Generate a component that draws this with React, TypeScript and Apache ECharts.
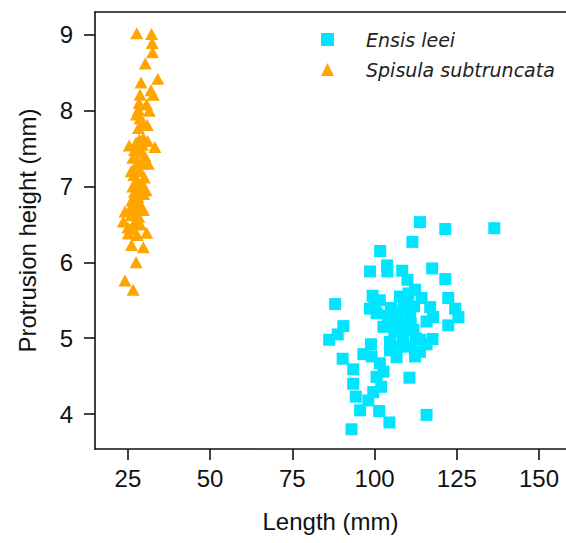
import React, { useEffect, useRef } from "react";
import * as echarts from "echarts";

const seriesNames = ["Ensis leei", "Spisula subtruncata"];
const xTicks = [25, 50, 75, 100, 125, 150];
const yTicks = [4, 5, 6, 7, 8, 9];

// [length (mm), protrusion height (mm)]
const ensisLeei: number[][] = [
  [113.8, 6.53], [121.5, 6.44], [136.4, 6.45], [111.5, 6.27], [101.7, 6.15],
  [103.8, 5.96], [103.9, 5.88], [98.6, 5.88], [108.4, 5.89], [117.5, 5.92],
  [110.0, 5.77], [121.5, 5.78], [88.0, 5.45], [99.4, 5.56], [101.6, 5.5],
  [98.6, 5.39], [100.6, 5.33], [107.7, 5.55], [110.3, 5.59], [112.3, 5.64],
  [114.3, 5.53], [122.4, 5.53], [116.9, 5.41], [124.5, 5.39], [125.5, 5.28],
  [117.8, 5.28], [115.8, 5.22], [122.4, 5.17], [108.7, 5.37], [110.8, 5.33],
  [105.7, 5.24], [107.7, 5.2], [102.7, 5.15], [109.8, 5.15], [111.8, 5.11],
  [106.7, 5.09], [90.5, 5.16], [88.8, 5.05], [86.2, 4.98], [104.7, 4.95],
  [108.7, 4.98], [113.8, 4.98], [117.6, 4.99], [115.8, 4.92], [98.9, 4.92],
  [107.7, 4.89], [110.8, 4.89], [96.6, 4.79], [104.7, 4.84], [90.3, 4.73],
  [99.1, 4.76], [106.7, 4.75], [112.3, 4.76], [113.8, 4.82], [101.6, 4.67],
  [93.5, 4.59], [102.7, 4.56], [100.6, 4.49], [110.6, 4.48], [93.5, 4.4],
  [102.0, 4.36], [99.6, 4.29], [94.3, 4.23], [98.1, 4.18], [95.6, 4.05],
  [101.4, 4.04], [115.8, 3.99], [104.5, 3.89], [93.0, 3.8], [105.0, 5.4],
  [107.0, 5.3], [109.0, 5.45], [111.0, 5.2], [106.0, 5.1], [108.5, 5.05],
  [104.0, 5.3], [112.5, 5.0], [110.0, 5.5], [100.0, 5.45], [112.0, 5.42],
];

const spisulaSubtruncata: number[][] = [
  [27.7, 9.02], [32.2, 9.01], [32.4, 8.89], [32.5, 8.77], [30.3, 8.62],
  [34.1, 8.42], [29.0, 8.37], [32.0, 8.27], [32.7, 8.21], [28.7, 8.21],
  [28.4, 8.1], [30.7, 8.08], [28.2, 8.01], [28.7, 7.9], [30.9, 7.81],
  [28.2, 7.77], [29.7, 7.64], [27.5, 7.58], [33.2, 7.52], [25.4, 7.54],
  [27.0, 7.48], [29.0, 7.45], [30.2, 7.4], [26.5, 7.38], [28.0, 7.33],
  [29.5, 7.3], [27.2, 7.25], [28.8, 7.2], [26.8, 7.15], [30.0, 7.12],
  [27.8, 7.08], [29.2, 7.05], [26.5, 7.0], [28.5, 6.98], [27.0, 6.93],
  [29.8, 6.9], [28.0, 6.86], [26.2, 6.82], [27.5, 6.78], [29.0, 6.75],
  [25.8, 6.72], [27.2, 6.7], [24.1, 6.67], [29.7, 6.69], [26.0, 6.62],
  [28.3, 6.6], [23.6, 6.54], [27.0, 6.52], [28.8, 6.5], [25.0, 6.46],
  [26.5, 6.44], [25.1, 6.38], [30.7, 6.39], [27.8, 6.36], [26.1, 6.23],
  [29.7, 6.2], [27.5, 6.0], [24.1, 5.76], [26.6, 5.64], [31.0, 7.6],
  [28.5, 7.62], [27.6, 7.95], [29.6, 7.85], [31.5, 8.0], [26.0, 7.2],
  [30.5, 6.95], [31.2, 7.3], [28.0, 7.5], [29.4, 7.55], [27.4, 6.56],
];

const axisFont = "'Liberation Sans', Arial, sans-serif";

export default function App() {
  const ref = useRef<HTMLDivElement>(null);
  useEffect(() => {
    if (!ref.current) return;
    const chart = echarts.init(ref.current, undefined, { renderer: "svg" });
    const axisLine = { show: true, lineStyle: { color: "#111", width: 1.6 } };
    chart.setOption({
      animation: false,
      backgroundColor: "#fff",
      grid: { left: 95, right: 0, top: 12, bottom: 94 },
      legend: {
        orient: "vertical",
        left: 316,
        top: 25,
        itemWidth: 13,
        itemHeight: 13,
        itemGap: 11,
        data: [
          { name: seriesNames[0], icon: "rect" },
          { name: seriesNames[1], icon: "triangle" },
        ],
        textStyle: {
          fontFamily: "'DejaVu Sans', sans-serif",
          fontStyle: "italic",
          fontSize: 19,
          color: "#222",
          padding: [0, 0, 0, 27],
        },
      },
      xAxis: [
        {
          type: "value",
          min: 15,
          max: 158.2,
          interval: 25,
          name: "Length (mm)",
          nameLocation: "middle",
          nameGap: 60,
          nameTextStyle: { fontFamily: axisFont, fontSize: 24, color: "#111" },
          axisLine,
          axisTick: { show: true, length: 11, lineStyle: { color: "#111", width: 1.6 }, customValues: xTicks },
          axisLabel: { fontFamily: axisFont, fontSize: 24, color: "#111", margin: 17, customValues: xTicks },
          splitLine: { show: false },
        },
        {
          type: "value",
          position: "top",
          min: 15,
          max: 158.2,
          axisLine,
          axisTick: { show: false },
          axisLabel: { show: false },
          splitLine: { show: false },
        },
      ],
      yAxis: {
        type: "value",
        min: 3.54,
        max: 9.3,
        name: "Protrusion height (mm)",
        nameLocation: "middle",
        nameGap: 56,
        nameTextStyle: { fontFamily: axisFont, fontSize: 24, color: "#111" },
        axisLine,
        axisTick: { show: true, length: 11, lineStyle: { color: "#111", width: 1.6 }, customValues: yTicks },
        axisLabel: { fontFamily: axisFont, fontSize: 24, color: "#111", margin: 22, customValues: yTicks },
        splitLine: { show: false },
      },
      series: [
        {
          name: seriesNames[0],
          type: "scatter",
          symbol: "rect",
          symbolSize: 12,
          itemStyle: { color: "#00E5FF", opacity: 1 },
          data: ensisLeei,
        },
        {
          name: seriesNames[1],
          type: "scatter",
          symbol: "triangle",
          symbolSize: [13, 12],
          itemStyle: { color: "#FFA500", opacity: 1 },
          data: spisulaSubtruncata,
        },
      ],
    });
    return () => chart.dispose();
  }, []);
  return <div ref={ref} style={{ width: 566, height: 543, position: "fixed", left: 0, top: 0 }} />;
}
